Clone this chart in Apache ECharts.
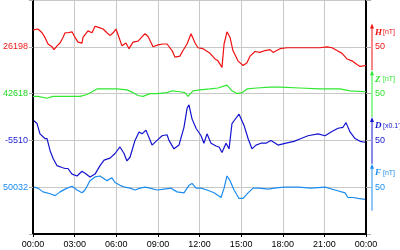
<!DOCTYPE html>
<html><head><meta charset="utf-8">
<script src="https://cdn.jsdelivr.net/npm/echarts@6/dist/echarts.min.js"></script>
<style>html,body{margin:0;padding:0;background:#fff}#c{width:400px;height:250px}</style>
</head><body><div id="c"></div>
<script>
// Time ticks (hours) and labels
const xTicks = [0,3,6,9,12,15,18,21,24];
const xTickLabels = ['00:00','03:00','06:00','09:00','12:00','15:00','18:00','21:00','00:00'];

// Baseline labels (left axis), from top to bottom: H, Z, D, F
const seriesNames = ['H','Z','D','F'];
const baselineLabels = ['26198','42618','-5510','50032'];
const unitLabels = ['[nT]','[nT]',"[x0.1']",'[nT]'];
const scaleLabel = '50';

// H [nT] deviation from baseline
const hTimes  = [0,0.36,0.65,0.86,1.08,1.37,1.51,1.73,1.95,2.16,2.31,2.52,2.81,3.03,3.24,3.53,3.6,3.96,4.25,4.47,4.68,5.05,5.33,5.55,5.77,5.98,6.2,6.41,6.7,6.92,7.21,7.57,8.07,8.29,8.65,9.01,9.37,9.66,10.02,10.23,10.59,10.81,11.1,11.39,11.68,11.89,12.25,12.76,13.12,13.33,13.62,13.77,13.98,14.2,14.41,14.77,15.14,15.42,15.64,16,16.36,16.72,17.08,17.3,17.8,18.31,18.74,19.24,19.75,20.18,20.68,21.19,21.55,21.91,22.27,22.63,22.99,23.35,23.57,24];
const hValues = [18,19,15,10,3,0,-3,1,4,10,15,15,16,10,5,4,10,17,15,22,21,19,15,12,15,19,10,1,4,-2,5,6,14,11,0,2,3,3,-4,-11,-10,-4,3,14,4,-1,-2,-7,-13,-15,-22,3,16,10,-4,-15,-20,-17,-10,-5,-6,-4,-3,-6,-2,-1,-1,-1,-1,-1,-1,0,-1,-4,-7,-13,-15,-19,-21,-20];

// Z [nT]
const zTimes  = [0,0.36,1.01,1.44,2.45,3.39,3.89,4.61,5.33,6.05,6.77,7.21,7.57,7.93,8.43,8.94,9.66,10.02,10.59,10.95,11.17,11.53,12.04,12.76,13.33,13.98,14.34,14.7,15.06,15.42,16.14,17.08,17.8,19.24,20.68,22.13,22.85,24];
const zValues = [-3,-3,-5,-3,-3,-3,-1,5,5,5,4,1,-2,-3,0,0,1,3,2,1,-3,3,4,5,6,9,3,0,1,5,6,7,7,6,5,5,3,2];

// D [x0.1']
const dTimes  = [0.07,0.29,0.5,0.86,1.01,1.23,1.44,1.73,2.09,2.31,2.52,2.81,3.17,3.53,3.75,4.11,4.47,4.83,5.12,5.55,5.91,6.27,6.56,6.77,6.99,7.35,7.64,7.86,8.14,8.58,8.94,9.3,9.66,9.8,10.16,10.52,10.88,11.1,11.24,11.46,11.75,12.11,12.32,12.54,12.83,13.19,13.41,13.62,13.91,14.13,14.34,14.49,14.85,15.21,15.5,15.78,16.07,16.43,16.79,17.15,17.66,18.23,18.81,19.32,19.82,20.54,21.05,21.48,21.98,22.34,22.56,22.85,23.21,23.57,23.93];
const dValues = [21,18,7,2,2,-11,-19,-27,-29,-30,-30,-36,-38,-33,-35,-39,-36,-27,-21,-19,-14,-7,-14,-22,-18,0,9,7,11,-5,0,5,6,0,-9,-5,14,34,38,23,13,5,-3,7,-3,-6,-7,-13,-3,-9,18,21,28,16,2,-9,-5,-3,-3,0,-5,-3,-1,2,5,7,5,9,13,14,19,9,2,-1,-2];

// F [nT]
const fTimes  = [0.07,0.36,0.72,1.23,1.59,1.95,2.45,2.81,3.17,3.53,3.75,4.11,4.47,4.83,4.97,5.33,5.69,5.91,6.27,6.63,6.99,7.35,7.71,8.07,8.43,8.94,9.44,9.95,10.38,10.88,11.24,11.46,11.75,12.11,12.54,13.05,13.55,13.77,13.98,14.2,14.49,14.85,15.14,15.5,15.86,16.29,16.94,17.37,18.09,19.1,20.04,21.05,21.77,22.49,22.7,23.06,23.42,23.93];
const fValues = [0,-1,-5,-7,-9,-5,-1,1,-3,-6,-3,7,11,12,10,7,10,5,2,0,-1,-3,-1,0,-1,-3,-2,-1,-5,-6,2,4,-1,-1,-3,-6,-11,-1,12,7,-3,-12,-12,-6,-1,-1,-2,-1,0,0,-1,0,-3,-6,-11,-11,-12,-13];

const colors = ['#f01010','#30e830','#1414d0','#1c8cf0'];
const labelColors = ['#f01818','#20d820','#1c1cd0','#1c8cf0'];
const bases = [200,150,100,50];
const times = [hTimes,zTimes,dTimes,fTimes];
const values = [hValues,zValues,dValues,fValues];

const chart = echarts.init(document.getElementById('c'), null, {renderer:'canvas'});
const font = 'Liberation Sans, Arial, sans-serif';
const rich = {};
labelColors.forEach((c,i)=>{ rich['c'+i] = {color:c, fontSize:9, fontFamily:font}; });

const series = seriesNames.map((n,i)=>({
  name:n, type:'line', showSymbol:false, animation:false, yAxisIndex:0,
  lineStyle:{color:colors[i], width:1.2}, itemStyle:{color:colors[i]},
  data: times[i].map((t,k)=>[t, bases[i] + values[i][k]])
}));

chart.setOption({
  animation:false,
  grid:{left:33, right:34, top:-1, bottom:16, containLabel:false},
  xAxis:{type:'value', min:0, max:24, interval:3,
    axisLine:{show:true, lineStyle:{color:'#000', width:2}},
    axisTick:{show:true, length:3, lineStyle:{color:'#000'}},
    axisLabel:{color:'#000', fontSize:9, fontFamily:font, margin:6,
      formatter:v=>{const i=xTicks.indexOf(v); return i>=0?xTickLabels[i]:'';}},
    splitLine:{show:true, lineStyle:{color:'#c8c8c8', width:1}}
  },
  yAxis:[
    {type:'value', min:0, max:250, interval:50, position:'left',
      axisLine:{show:true, lineStyle:{color:'#000', width:2}},
      axisTick:{show:true, length:4, lineStyle:{color:'#aaa'}},
      axisLabel:{margin:5, rich:rich,
        formatter:v=>{const i=bases.indexOf(v); return i>=0?'{c'+i+'|'+baselineLabels[i]+'}':'';}},
      splitLine:{show:true, lineStyle:{color:'#c8c8c8', width:1}}
    },
    {type:'value', min:0, max:250, interval:50, position:'right',
      axisLine:{show:true, lineStyle:{color:'#000', width:2}},
      axisTick:{show:true, length:5, lineStyle:{color:'#aaa'}},
      axisLabel:{show:false}, splitLine:{show:false}
    }
  ],
  series: series
});

// Scale bars on the right side, 50 units long, centred on each baseline
const xr = chart.convertToPixel({xAxisIndex:0}, 24) + 6;
const gfx = [];
bases.forEach((b,i)=>{
  const yTop = chart.convertToPixel({yAxisIndex:0}, b+25);
  const yBot = chart.convertToPixel({yAxisIndex:0}, b-25);
  const yMid = chart.convertToPixel({yAxisIndex:0}, b);
  const c = colors[i];
  gfx.push({type:'line', shape:{x1:xr, y1:yBot, x2:xr, y2:yTop+3}, style:{stroke:c, lineWidth:1}, silent:true});
  gfx.push({type:'polygon', shape:{points:[[xr,yTop],[xr-2,yTop+5],[xr+2,yTop+5]]}, style:{fill:c}, silent:true});
  gfx.push({type:'text', x:xr+3, y:yTop+9, style:{text:seriesNames[i], fill:c, font:'italic bold 9px "Liberation Serif", serif', verticalAlign:'middle'}, silent:true});
  gfx.push({type:'text', x:xr+11, y:yTop+9, style:{text:unitLabels[i], fill:c, font:'7px "Liberation Sans", sans-serif', verticalAlign:'middle'}, silent:true});
  gfx.push({type:'text', x:xr+3, y:yMid, style:{text:scaleLabel, fill:c, font:'9px "Liberation Sans", sans-serif', verticalAlign:'middle'}, silent:true});
});
chart.setOption({graphic:gfx});
</script></body></html>
